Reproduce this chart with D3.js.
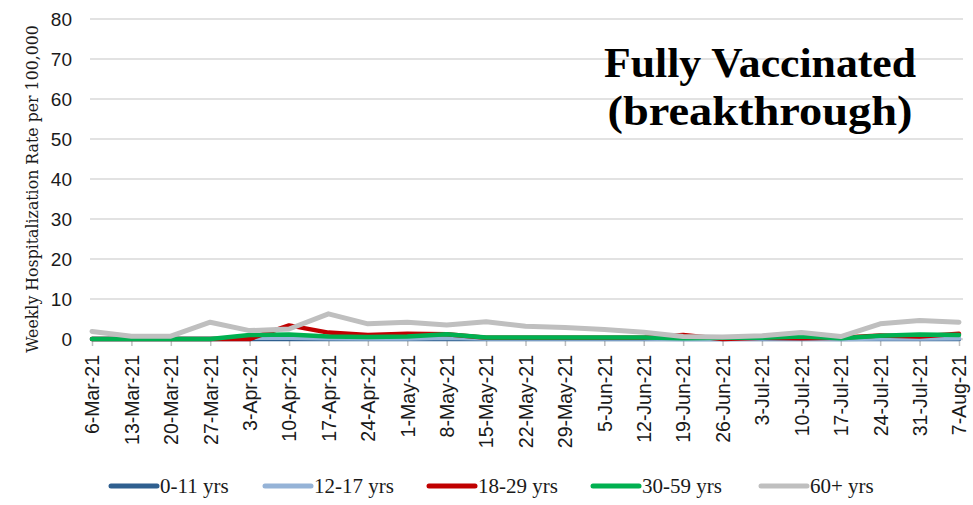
<!DOCTYPE html>
<html>
<head>
<meta charset="utf-8">
<script src="https://cdn.jsdelivr.net/npm/d3@7/dist/d3.min.js"></script>
<style>
  html, body { margin: 0; padding: 0; background: #fff; }
  svg { display: block; }
</style>
</head>
<body>
<svg id="chart" width="973" height="505"></svg>
<script>
const categories = ["6-Mar-21","13-Mar-21","20-Mar-21","27-Mar-21","3-Apr-21","10-Apr-21","17-Apr-21","24-Apr-21","1-May-21","8-May-21","15-May-21","22-May-21","29-May-21","5-Jun-21","12-Jun-21","19-Jun-21","26-Jun-21","3-Jul-21","10-Jul-21","17-Jul-21","24-Jul-21","31-Jul-21","7-Aug-21"];
const age0_11  = [0,0,0,0,0,0,0,0,0,0,0,0,0,0,0,0,0,0,0,0,0,0,0];
const age12_17 = [0,0,0,0,0.3,0.3,0.2,0.1,0.1,0.3,0.1,0.1,0.1,0.1,0.1,0,0,0.1,0.1,0,0.1,0.1,0.2];
const age18_29 = [0,0,0,0,0,3.4,1.6,1.0,1.3,1.2,0.3,0.3,0.3,0.3,0.3,1.0,0,0.3,0.2,0.3,0.9,0.6,1.3];
const age30_59 = [0,0,0,0,1.0,1.1,0.6,0.5,0.6,1.2,0.4,0.4,0.4,0.4,0.4,0.2,0.3,0.3,0.6,0.2,0.8,1.1,1.0];
const age60    = [1.9,0.7,0.7,4.2,2.1,2.5,6.3,3.8,4.2,3.5,4.3,3.2,2.9,2.4,1.7,0.6,0.5,0.8,1.6,0.6,3.8,4.6,4.2];
const seriesNames = ["0-11 yrs","12-17 yrs","18-29 yrs","30-59 yrs","60+ yrs"];
const yTicks = [0,10,20,30,40,50,60,70,80];
const titleLines = ["Fully Vaccinated","(breakthrough)"];
const yLabel = "Weekly Hospitalization Rate per 100,000";

const seriesValues = [age0_11, age12_17, age18_29, age30_59, age60];
const colors = ["#2f5f8f","#95b3d7","#c00000","#00b050","#bfbfbf"];
const widths = [4.5,4.5,4.5,4.5,5];

const svg = d3.select("#chart");
const x = d3.scalePoint().domain(categories).range([92, 959]);
const y = d3.scaleLinear().domain([0, 80]).range([339, 19]);

// gridlines
svg.append("g").selectAll("line").data(yTicks).join("line")
  .attr("x1", 90).attr("x2", 963)
  .attr("y1", d => y(d)).attr("y2", d => y(d))
  .attr("stroke", "#d9d9d9").attr("stroke-width", 1.5);

// y axis labels
const yAxis = d3.axisLeft(y).tickValues(yTicks).tickSize(0).tickPadding(0);
const gy = svg.append("g").attr("transform", "translate(72,0)").call(yAxis);
gy.select(".domain").remove();
gy.selectAll("text").attr("font-family", "'Liberation Sans', Arial, sans-serif")
  .attr("font-size", 19).attr("fill", "#1a1a1a");

// x axis
const xAxis = d3.axisBottom(x).tickSize(7).tickPadding(8);
const gx = svg.append("g").attr("transform", "translate(0,339)").call(xAxis);
gx.select(".domain").attr("stroke", "#d9d9d9").attr("stroke-width", 1.5)
  .attr("d", "M90,0.5H963");
gx.selectAll(".tick line").attr("stroke", "#bfbfbf").attr("stroke-width", 1.5);
gx.selectAll(".tick text")
  .attr("font-family", "'Liberation Sans', Arial, sans-serif")
  .attr("font-size", 19.5).attr("fill", "#1a1a1a")
  .attr("transform", "rotate(-90)")
  .attr("text-anchor", "end")
  .attr("x", -16).attr("y", 0).attr("dy", "0.35em");

// lines
const line = d3.line().x((d, i) => x(categories[i])).y(d => y(d));
svg.append("g").selectAll("path").data(seriesValues).join("path")
  .attr("d", d => line(d))
  .attr("fill", "none")
  .attr("stroke", (d, i) => colors[i])
  .attr("stroke-width", (d, i) => widths[i])
  .attr("stroke-linejoin", "round").attr("stroke-linecap", "round");

// y label
const yl = svg.append("text")
  .attr("transform", "translate(38,189) rotate(-90)")
  .attr("text-anchor", "middle")
  .attr("font-family", "'DejaVu Serif', serif")
  .attr("font-size", 15).attr("fill", "#1a1a1a")
  .text(yLabel);
const len = yl.node().getComputedTextLength();
yl.attr("font-size", 15 * 328 / len);

// title
const titleWidths = [312, 305];
svg.append("g").selectAll("text").data(titleLines).join("text")
  .attr("x", 760).attr("y", (d, i) => 77 + i * 48)
  .attr("text-anchor", "middle")
  .attr("font-family", "'Liberation Serif', 'Times New Roman', serif")
  .attr("font-weight", "bold").attr("font-size", 43).attr("fill", "#000")
  .attr("textLength", (d, i) => titleWidths[i])
  .attr("lengthAdjust", "spacingAndGlyphs")
  .text(d => d);

// legend
const legendX = [111, 265, 429, 593, 761];
const lg = svg.append("g").selectAll("g").data(seriesNames).join("g")
  .attr("transform", (d, i) => `translate(${legendX[i]},486)`);
lg.append("line").attr("x1", 0).attr("x2", 46).attr("y1", 0).attr("y2", 0)
  .attr("stroke", (d, i) => colors[i]).attr("stroke-width", 5)
  .attr("stroke-linecap", "round");
lg.append("text").attr("x", 49).attr("y", 0).attr("dy", "0.35em")
  .attr("font-family", "'Liberation Serif', 'Times New Roman', serif")
  .attr("font-size", 21).attr("fill", "#1a1a1a")
  .text(d => d);
</script>
</body>
</html>
